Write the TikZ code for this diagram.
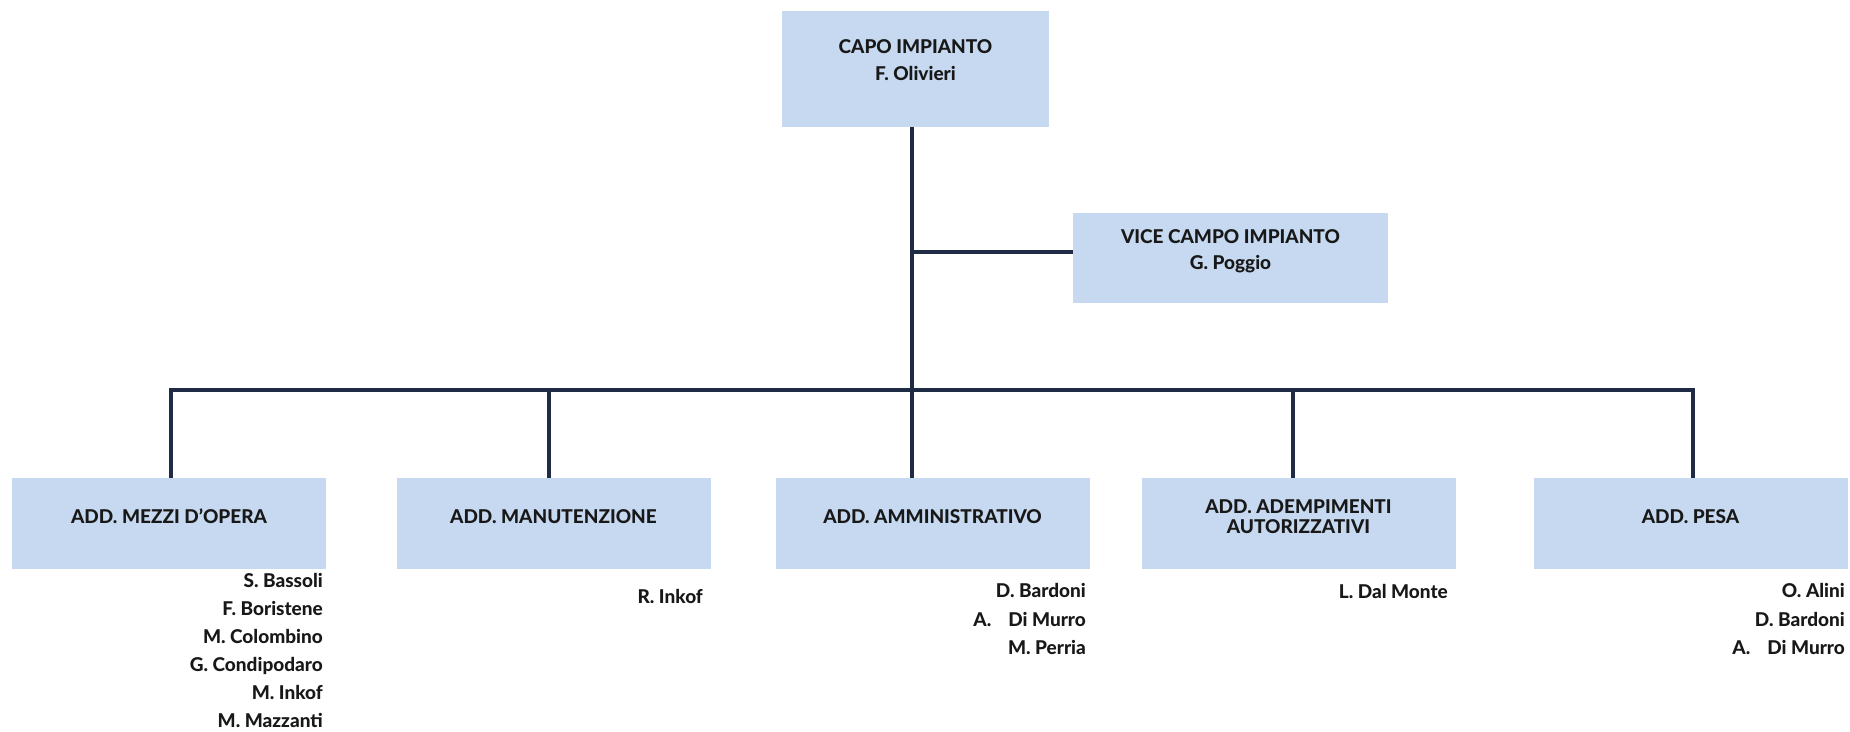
\documentclass[tikz,border=0pt]{standalone}
\usepackage{fontspec}
\IfFontExistsTF{Lato Heavy}{\setmainfont{Lato}[BoldFont={Lato Heavy}]}{\setmainfont{Lato}[BoldFeatures={FakeBold=1.5}]}
\definecolor{boxblue}{HTML}{C6D9F0}
\definecolor{linenavy}{HTML}{1F2B44}
\definecolor{txt}{HTML}{181818}
\tikzset{
  orgbox/.style={rectangle, fill=boxblue, draw=none, inner sep=0pt, minimum height=91pt, minimum width=314pt},
  ttl/.style={font=\bfseries\fontsize{19}{23}\selectfont, text=txt, inner sep=0pt, anchor=base},
  nm/.style={font=\bfseries\fontsize{19}{23}\selectfont, text=txt, inner sep=0pt, anchor=base east},
  conn/.style={draw=linenavy, line width=3.5pt},
  bar/.style={draw=linenavy, line width=4.5pt}
}
\begin{document}
\begin{tikzpicture}[x=1pt,y=-1pt]
\useasboundingbox (0,0) rectangle (1850,731);
% boxes
\node[orgbox, minimum width=267pt, minimum height=116pt] (capo) at (915.5,69) {};
\node[orgbox, minimum width=315pt, minimum height=90pt] (vice) at (1230.5,258) {};
\node[orgbox] (b1) at (169,523.5) {};
\node[orgbox] (b2) at (553.5,523.5) {};
\node[orgbox] (b3) at (932.5,523.5) {};
\node[orgbox] (b4) at (1298.5,523.5) {};
\node[orgbox] (b5) at (1690.5,523.5) {};
% connector points
\coordinate (trunk) at (912,390);
\coordinate (vb) at (912,252);
\coordinate (d1) at (171,390);
\coordinate (d2) at (549,390);
\coordinate (d4) at (1293,390);
\coordinate (d5) at (1693,390);
% connectors
\draw[conn] (capo.south -| trunk) -- (trunk);
\draw[conn] (vb) -- (vb -| vice.west);
\draw[bar, line cap=rect] (d1) -- (d5);
\draw[conn] (d1) -- (d1 |- b1.north);
\draw[conn] (d2) -- (d2 |- b2.north);
\draw[conn] (trunk) -- (trunk |- b3.north);
\draw[conn] (d4) -- (d4 |- b4.north);
\draw[conn] (d5) -- (d5 |- b5.north);
% titles
\node[ttl] (capo1) at (915.5,53) {CAPO IMPIANTO};
\node[ttl] (capo2) at (915.5,80) {F. Olivieri};
\node[ttl] (vice1) at (1230.5,243) {VICE CAMPO IMPIANTO};
\node[ttl] (vice2) at (1230.5,269) {G. Poggio};
\node[ttl] (t1) at (169,523) {ADD. MEZZI D’OPERA};
\node[ttl] (t2) at (553.5,523) {ADD. MANUTENZIONE};
\node[ttl] (t3) at (932.5,523) {ADD. AMMINISTRATIVO};
\node[ttl] (t4a) at (1298.5,513) {ADD. ADEMPIMENTI};
\node[ttl] (t4b) at (1298.5,533) {AUTORIZZATIVI};
\node[ttl] (t5) at (1690.5,523) {ADD. PESA};
% names
\node[nm] (n11) at (323,587) {S. Bassoli};
\node[nm] (n12) at (323,615) {F. Boristene};
\node[nm] (n13) at (323,643) {M. Colombino};
\node[nm] (n14) at (323,671) {G. Condipodaro};
\node[nm] (n15) at (323,699) {M. Inkof};
\node[nm] (n16) at (323,727) {M. Mazzanti};
\node[nm] (n21) at (703,603) {R. Inkof};
\node[nm] (n31) at (1086,597) {D. Bardoni};
\node[nm] (n32) at (1086,626) {A.\hspace{17pt}Di Murro};
\node[nm] (n33) at (1086,654) {M. Perria};
\node[nm] (n41) at (1448,598) {L. Dal Monte};
\node[nm] (n51) at (1845,597) {O. Alini};
\node[nm] (n52) at (1845,626) {D. Bardoni};
\node[nm] (n53) at (1845,654) {A.\hspace{17pt}Di Murro};
\end{tikzpicture}
\end{document}
